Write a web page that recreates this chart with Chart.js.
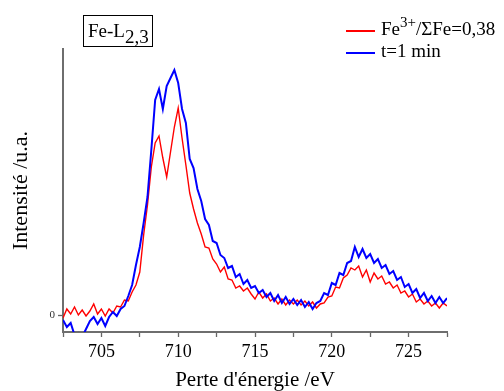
<!DOCTYPE html>
<html>
<head>
<meta charset="utf-8">
<script src="https://cdn.jsdelivr.net/npm/chart.js@4.4.1/dist/chart.umd.min.js"></script>
<style>
  body { margin: 0; background: #fff; }
  #wrap { position: relative; width: 504px; height: 391px; font-family: "Liberation Serif", "Times New Roman", serif; color: #000; }
  canvas { position: absolute; left: 0; top: 0; }
  .box { position: absolute; left: 83px; top: 15px; width: 70px; height: 32px; border: 1px solid #000; box-sizing: border-box; background: #fff; }
  .lbl { position: absolute; white-space: nowrap; font-size: 19px; line-height: 19px; }
  .swatch { position: absolute; width: 29px; height: 1.5px; }
</style>
</head>
<body>
<div id="wrap">
  <canvas id="spectre" width="504" height="391"></canvas>
  <div class="box"></div>
  <div class="lbl" style="left:88px; top:21px;">Fe-L<span style="position:relative; top:6px;">2,3</span></div>
  <div class="swatch" style="left:346px; top:30px; background:#ff0000;"></div>
  <div class="lbl" style="left:381px; top:19px;">Fe<span style="position:relative; top:-8px; font-size:15px;">3+</span>/ΣFe=0,38</div>
  <div class="swatch" style="left:346px; top:52px; background:#0000ff;"></div>
  <div class="lbl" style="left:381px; top:41px;">t=1 min</div>
</div>
<script>
// energie de 702.5 a 727.5 eV, pas de 0.25 eV
const eStart = 702.5;
const eStep = 0.25;

const fe3 = [
  -3, 6, 1, 8, 0, 5, -1, 4, 11, 1,
  6, -1, 6, 2, 9, 8, 15, 14, 23, 30,
  43, 80, 110, 148, 172, 179, 157, 138, 163, 188,
  207, 177, 150, 122, 106, 92, 81, 68, 67, 56,
  51, 43, 48, 36, 35, 27, 29, 24, 27, 21,
  16, 23, 17, 21, 14, 17, 11, 16, 10, 15,
  11, 15, 10, 14, 9, 13, 7, 11, 12, 18,
  19, 28, 27, 37, 40, 47, 45, 49, 38, 45,
  33, 42, 36, 39, 31, 33, 27, 30, 22, 24,
  18, 21, 13, 16, 11, 14, 9, 12, 7, 12,
  9
];

const t1min = [
  -5, -12, -8, -20, -18, -22, -14, -6, -2, -9,
  -3, -11, -2, 3, -1, 6, 9, 19, 30, 50,
  68, 92, 118, 165, 215, 226, 206, 229, 237, 245,
  232, 206, 192, 156, 147, 126, 114, 96, 90, 74,
  72, 60, 57, 47, 49, 38, 41, 31, 35, 27,
  29, 22, 25, 18, 22, 14, 20, 12, 18, 11,
  16, 10, 15, 8, 13, 6, 12, 14, 22, 20,
  32, 30, 42, 40, 52, 54, 68, 58, 66, 57,
  61, 52, 56, 47, 50, 41, 44, 35, 38, 28,
  31, 22, 26, 17, 22, 14, 19, 12, 18, 12,
  17
];

const xTicks = [702.5, 705, 707.5, 710, 712.5, 715, 717.5, 720, 722.5, 725, 727.5];
const xLabels = ['', '705', '', '710', '', '715', '', '720', '', '725', ''];
const yTicks = [0];

function toPoints(vals) {
  return vals.map((v, i) => ({ x: eStart + i * eStep, y: v }));
}

const serif = '"Liberation Serif", "Times New Roman", serif';

new Chart(document.getElementById('spectre'), {
  type: 'line',
  data: {
    datasets: [
      { label: 'Fe3+/ΣFe=0,38', data: toPoints(fe3), borderColor: '#ff0000', borderWidth: 1.4, pointRadius: 0, tension: 0, order: 1 },
      { label: 't=1 min', data: toPoints(t1min), borderColor: '#0000ff', borderWidth: 2, pointRadius: 0, tension: 0, order: 0 }
    ]
  },
  options: {
    responsive: false,
    animation: false,
    devicePixelRatio: 1,
    layout: { padding: { left: 0, top: 49, right: 57, bottom: 0 } },
    plugins: { legend: { display: false }, tooltip: { enabled: false } },
    scales: {
      x: {
        type: 'linear',
        min: 702.5,
        max: 727.5,
        afterBuildTicks: s => { s.ticks = xTicks.map(v => ({ value: v })); },
        afterFit: s => { s.height = 59; },
        ticks: {
          autoSkip: false, maxRotation: 0, padding: 4,
          color: '#000',
          font: { family: serif, size: 18 },
          callback: (v) => xLabels[xTicks.indexOf(v)] ?? ''
        },
        grid: { drawOnChartArea: false, drawTicks: true, tickLength: 5, color: '#666', tickWidth: 1.3 },
        border: { color: '#6e6e6e', width: 2 },
        title: { display: true, text: "Perte d'énergie /eV", color: '#000', font: { family: serif, size: 21, lineHeight: 1 }, padding: 0 }
      },
      y: {
        min: -17,
        max: 266,
        afterBuildTicks: s => { s.ticks = yTicks.map(v => ({ value: v })); },
        afterFit: s => { s.width = 63; },
        ticks: { padding: 3, color: '#333', font: { family: serif, size: 11 } },
        grid: { drawOnChartArea: false, drawTicks: true, tickLength: 5, color: '#666', tickWidth: 1.3 },
        border: { color: '#6e6e6e', width: 2 },
        title: { display: true, text: 'Intensité /u.a.', color: '#000', font: { family: serif, size: 22, lineHeight: 1 }, padding: { top: 10 } }
      }
    }
  }
});
</script>
</body>
</html>
